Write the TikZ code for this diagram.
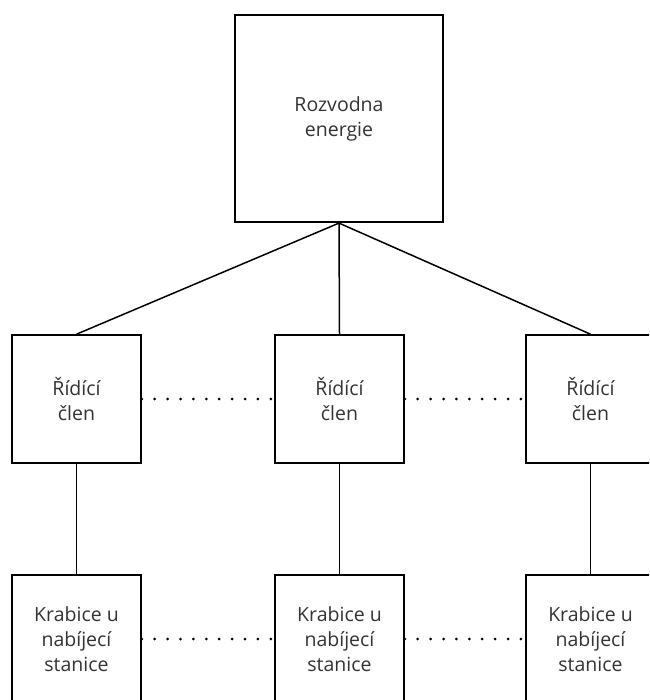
\documentclass[tikz,border=0pt]{standalone}
\usepackage{fontspec}
\setmainfont{Open Sans}
\usepackage{tikz}
\definecolor{txtgray}{HTML}{333333}

\begin{document}
\begin{tikzpicture}[x=1pt,y=-1pt,
  box/.style={draw,line width=1.6pt,minimum width=129pt,minimum height=128pt,
    inner sep=0pt,align=center,text=txtgray,font=\fontsize{19.5}{25}\selectfont},
  link/.style={line width=1.5pt},
  dots/.style={line width=3pt,line cap=round,dash pattern=on 0pt off 12.9pt}]
\useasboundingbox (0,0) rectangle (649,700);
\path[clip] (0,0) rectangle (649,700);
\node[box,minimum width=208pt,minimum height=207pt] (roz) at (339,118.8) {Rozvodna\\energie};
\foreach \i/\x in {1/76.5,2/339.5,3/590.5} {
  \node[box] (rid\i) at (\x,399) {Řídící\\člen};
  \node[box] (kra\i) at (\x,639) {Krabice u\\nabíjecí\\stanice};
  \draw[link] (roz.south) -- (rid\i.north);
  \draw[link] (rid\i) -- (kra\i);
}
\draw[dots] (rid1.east) -- (rid2.west);
\draw[dots] (rid2.east) -- (rid3.west);
\draw[dots] (kra1.east) -- (kra2.west);
\draw[dots] (kra2.east) -- (kra3.west);
\end{tikzpicture}
\end{document}
